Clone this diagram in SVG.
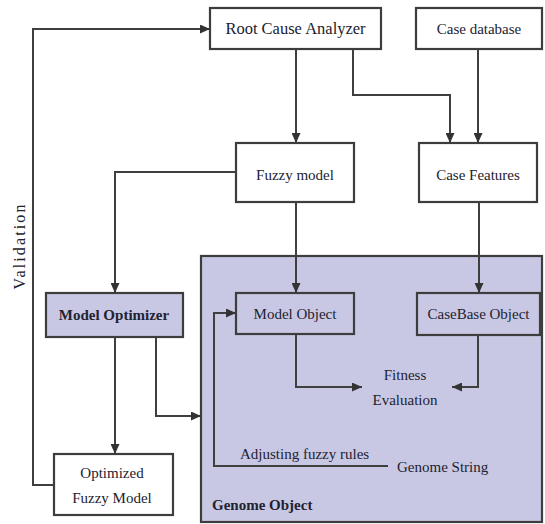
<svg xmlns="http://www.w3.org/2000/svg" width="545" height="524" viewBox="0 0 545 524">
<style>
.box{fill:#ffffff;stroke:#3d3d3d;stroke-width:2.2}
.lav{fill:#c9c8e4;stroke:#3d3d3d;stroke-width:2.2}
.t{font-family:"Liberation Serif","Times New Roman",serif;font-size:15px;fill:#222230;text-anchor:middle}
.tl{font-family:"Liberation Serif","Times New Roman",serif;font-size:15px;fill:#222230}
.b{font-weight:bold}
.c{fill:none;stroke:#3f3f3f;stroke-width:2}
</style>
<defs>
<marker id="ah" markerUnits="userSpaceOnUse" markerWidth="10" markerHeight="9" refX="10" refY="4.5" orient="auto">
<path d="M0,0 L10,4.5 L0,9 z" fill="#333"/>
</marker>
</defs>
<rect width="545" height="524" fill="#ffffff"/>
<g id="genome-object">
<rect class="lav" x="201" y="256" width="341" height="266"/>
<text class="tl b" x="212" y="510">Genome Object</text>
</g>
<g id="root-cause-analyzer">
<rect class="box" x="210" y="8" width="171" height="41"/>
<text class="t" x="295.5" y="34" style="font-size:16.5px">Root Cause Analyzer</text>
</g>
<g id="case-database">
<rect class="box" x="416" y="8" width="126" height="41"/>
<text class="t" x="479" y="34">Case database</text>
</g>
<g id="fuzzy-model">
<rect class="box" x="236" y="143" width="118" height="59"/>
<text class="t" x="295" y="180">Fuzzy model</text>
</g>
<g id="case-features">
<rect class="box" x="419" y="143" width="118" height="59"/>
<text class="t" x="478" y="180">Case Features</text>
</g>
<g id="model-optimizer">
<rect class="lav" x="46" y="293" width="137" height="44"/>
<text class="t b" x="114" y="320">Model Optimizer</text>
</g>
<g id="model-object">
<rect class="lav" x="236" y="293" width="118" height="41"/>
<text class="t" x="295" y="319">Model Object</text>
</g>
<g id="casebase-object">
<rect class="lav" x="417" y="293" width="123" height="42"/>
<text class="t" x="478.5" y="319">CaseBase Object</text>
</g>
<g id="fitness-evaluation">
<text class="t" x="405" y="380">Fitness</text>
<text class="t" x="405" y="405">Evaluation</text>
</g>
<g id="genome-string">
<text class="tl" x="397" y="472">Genome String</text>
</g>
<g id="optimized-fuzzy-model">
<rect class="box" x="54" y="454" width="119" height="61"/>
<text class="t" x="112" y="478">Optimized</text>
<text class="t" x="112" y="503">Fuzzy Model</text>
</g>
<g id="connectors">
<path class="c" d="M54,485 H33 V29 H210" marker-end="url(#ah)"/>
<path class="c" d="M296,49 V143" marker-end="url(#ah)"/>
<path class="c" d="M353,49 V95 H450 V143" marker-end="url(#ah)"/>
<path class="c" d="M478,49 V143" marker-end="url(#ah)"/>
<path class="c" d="M236,172 H115 V293" marker-end="url(#ah)"/>
<path class="c" d="M296,202 V293" marker-end="url(#ah)"/>
<path class="c" d="M479,202 V293" marker-end="url(#ah)"/>
<path class="c" d="M115,337 V454" marker-end="url(#ah)"/>
<path class="c" d="M156,337 V416 H201" marker-end="url(#ah)"/>
<path class="c" d="M296,334 V387 H362" marker-end="url(#ah)"/>
<path class="c" d="M478,335 V387 H452" marker-end="url(#ah)"/>
<path class="c" d="M388,466 H214 V313 H236" marker-end="url(#ah)"/>
<text class="tl" x="240" y="459">Adjusting fuzzy rules</text>
<text class="t" x="0" y="0" transform="translate(25,247) rotate(-90)" style="font-size:16px" textLength="85">Validation</text>
</g>
</svg>
